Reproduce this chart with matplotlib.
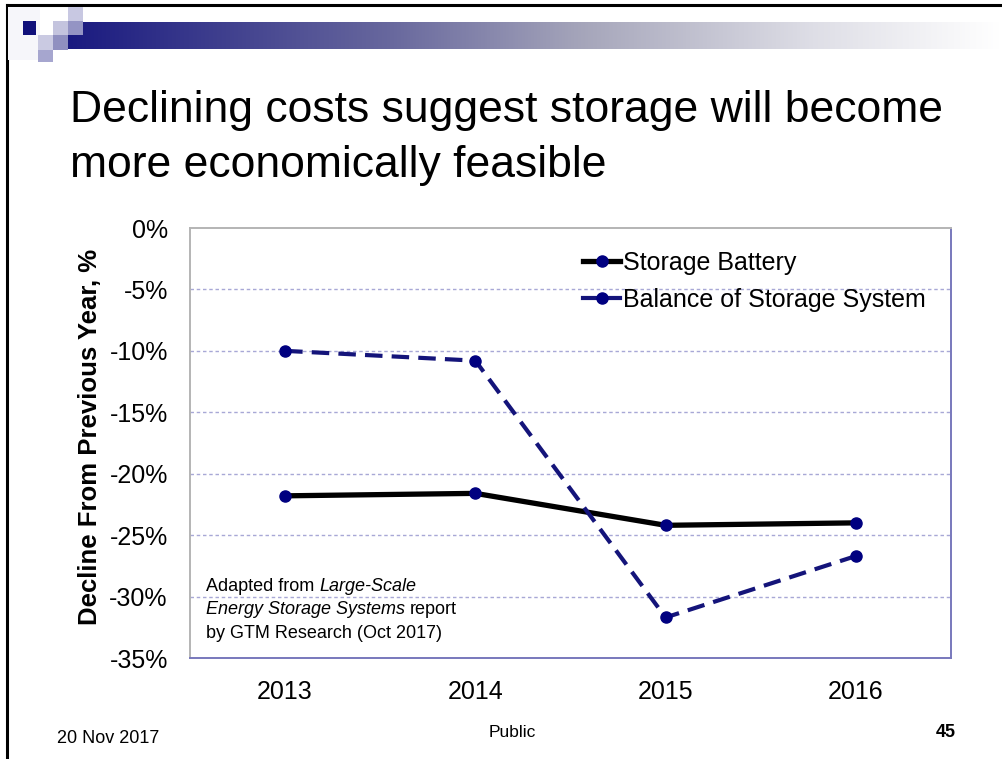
import numpy as np
import matplotlib
matplotlib.use("Agg")
import matplotlib.pyplot as plt
from matplotlib.lines import Line2D
from matplotlib.patches import Rectangle
from matplotlib.offsetbox import TextArea, HPacker, VPacker, AnchoredOffsetbox

plt.rcParams["font.family"] = ["Liberation Sans", "DejaVu Sans"]

years = ["2013", "2014", "2015", "2016"]
battery = [-21.8, -21.6, -24.2, -24.0]
balance = [-10.0, -10.8, -31.7, -26.7]
y_ticks = [0, -5, -10, -15, -20, -25, -30, -35]

W, H = 1003, 759
NAVY = "#000080"
DARK_NAVY = "#14147a"


def fx(x):
    return x / W


def fy(y):
    return 1 - y / H


fig = plt.figure(figsize=(W / 100, H / 100), dpi=100)
fig.patch.set_facecolor("white")

# slide frame
fig.add_artist(Line2D([fx(7), fx(1003)], [fy(5), fy(5)], color="black", lw=2.2))
fig.add_artist(Line2D([fx(7), fx(7)], [fy(5), 0], color="black", lw=2.2))

# header bar with gradient
bar_ax = fig.add_axes([fx(68), fy(49), fx(1000) - fx(68), 27 / H])
stops = np.array([0.0, 0.35, 0.55, 0.8, 1.0])
cols = np.array([[26, 26, 128], [105, 105, 158], [165, 165, 186],
                 [222, 222, 230], [255, 255, 255]]) / 255
t = np.linspace(0, 1, 400)
grad = np.stack([np.interp(t, stops, cols[:, i]) for i in range(3)], axis=-1)
bar_ax.imshow(grad[np.newaxis, :, :], aspect="auto", extent=(0, 1, 0, 1))
bar_ax.set_axis_off()


def square(x0, y0, x1, y1, color):
    fig.add_artist(Rectangle((fx(x0), fy(y1)), fx(x1) - fx(x0), fy(y0) - fy(y1),
                             transform=fig.transFigure, color=color, lw=0, zorder=3))


square(8, 7, 40, 60, "#f6f6fa")
square(23, 21, 36, 35, "#10107a")
square(68, 7, 83, 21, "#c8c8e2")
square(53, 21, 68, 35, "#c4c4de")
square(68, 21, 83, 35, "#9494c4")
square(38, 35, 53, 50, "#cacae2")
square(53, 35, 68, 50, "#9090c0")
square(38, 50, 53, 62, "#a6a6cf")

# title
fig.text(fx(70), fy(122), "Declining costs suggest storage will become",
         fontsize=32, va="baseline", ha="left")
fig.text(fx(70), fy(177), "more economically feasible",
         fontsize=32, va="baseline", ha="left")

# chart
ax = fig.add_axes([fx(190), fy(658), fx(951) - fx(190), (658 - 228) / H])
x = np.arange(len(years))

for v in y_ticks[1:-1]:
    ax.axhline(v, color="#a8a8d6", lw=1, ls=(0, (2.5, 2)), zorder=1)

ax.plot(x, battery, color="black", lw=3.8, marker="o", ms=8,
        mfc=NAVY, mec=NAVY, zorder=3, solid_capstyle="round")
ax.plot(x, balance, color=DARK_NAVY, lw=3.0, ls=(0, (4.2, 2.2)), marker="o", ms=8,
        mfc=NAVY, mec=NAVY, zorder=3)

ax.set_xlim(-0.5, 3.5)
ax.set_ylim(-35, 0)
ax.set_xticks(x)
ax.set_xticklabels(years, fontsize=18)
ax.set_yticks(y_ticks)
ax.set_yticklabels([f"{v}%" for v in y_ticks], fontsize=18)
ax.tick_params(axis="both", length=0)
ax.tick_params(axis="y", pad=16)
ax.tick_params(axis="x", pad=16)

for side in ("top", "left"):
    ax.spines[side].set_color("#b4b4b4")
    ax.spines[side].set_linewidth(1.4)
for side in ("right", "bottom"):
    ax.spines[side].set_color("#7878bc")
    ax.spines[side].set_linewidth(1.4)

fig.text(fx(90), fy(437), "Decline From Previous Year, %", rotation=90,
         fontsize=18.5, fontweight="bold", ha="center", va="center")

handles = [
    Line2D([], [], color="black", lw=3.8, marker="o", ms=8, mfc=NAVY, mec=NAVY),
    Line2D([], [], color=DARK_NAVY, lw=3.0, marker="o", ms=8, mfc=NAVY, mec=NAVY),
]
ax.legend(handles, ["Storage Battery", "Balance of Storage System"],
          loc="upper left", bbox_to_anchor=((583 - 190) / 761, (658 - 251) / 430),
          frameon=False, fontsize=18, handlelength=1.5, handletextpad=0.1,
          borderpad=0, borderaxespad=0, labelspacing=0.5)

# source note, partly in italics
note_size = 13
space = 0.278 * note_size


def note_row(parts):
    boxes = [TextArea(s, textprops=dict(fontsize=note_size, style=st))
             for s, st in parts]
    return HPacker(children=boxes, align="baseline", pad=0, sep=space)


note = VPacker(children=[
    note_row([("Adapted from", "normal"), ("Large-Scale", "italic")]),
    note_row([("Energy Storage Systems", "italic"), ("report", "normal")]),
    note_row([("by GTM Research (Oct 2017)", "normal")]),
], align="left", pad=0, sep=4.5)
ax.add_artist(AnchoredOffsetbox(loc="upper left", child=note, pad=0, borderpad=0,
                                frameon=False,
                                bbox_to_anchor=((206 - 190) / 761, (658 - 578) / 430),
                                bbox_transform=ax.transAxes))

# footer
fig.text(fx(57), fy(743), "20 Nov 2017", fontsize=13, va="baseline")
fig.text(fx(512), fy(737), "Public", fontsize=12.5, va="baseline", ha="center")
fig.text(fx(956), fy(737), "45", fontsize=13, fontweight="bold",
         va="baseline", ha="right")

fig.savefig("out.png", dpi=100)
